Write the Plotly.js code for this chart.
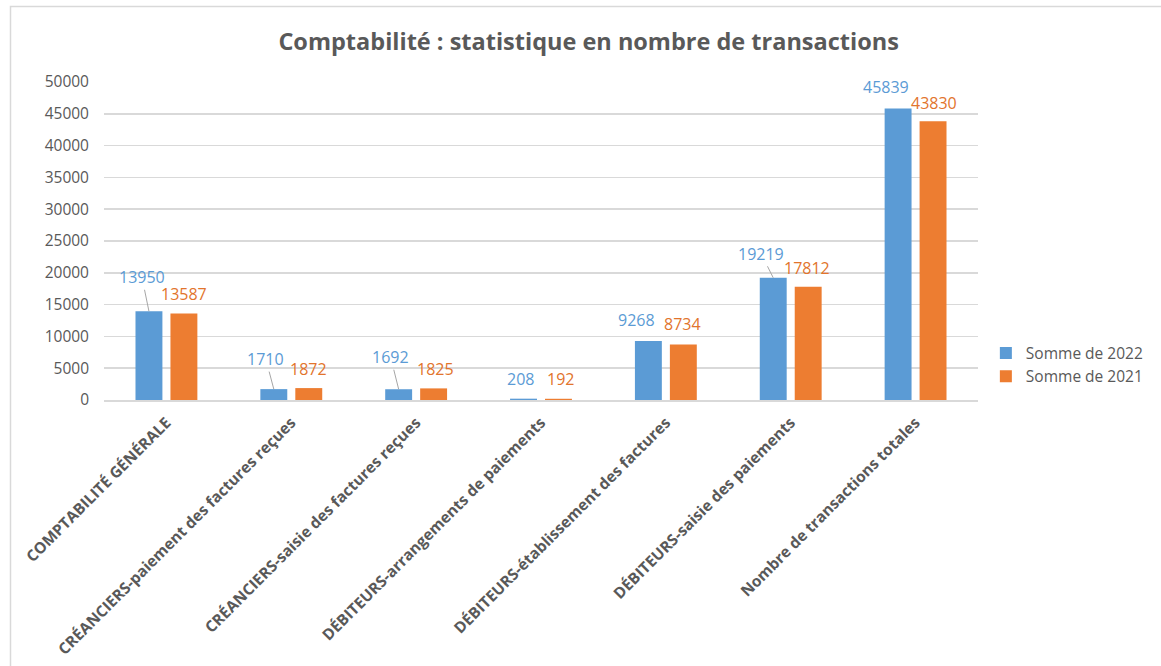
<!DOCTYPE html>
<html>
<head>
<meta charset="utf-8">
<script src="https://cdn.plot.ly/plotly-3.0.1.min.js"></script>
<style>html,body{margin:0;padding:0;background:#fff;}#chart{width:1161px;height:666px;}</style>
</head>
<body>
<div id="chart"></div>
<script>
// ---- data ----
const categories = [
  "COMPTABILITÉ GÉNÉRALE",
  "CRÉANCIERS-paiement des factures reçues",
  "CRÉANCIERS-saisie des factures reçues",
  "DÉBITEURS-arrangements de paiements",
  "DÉBITEURS-établissement des factures",
  "DÉBITEURS-saisie des paiements",
  "Nombre de transactions totales"
];
const values2022 = [13950, 1710, 1692, 208, 9268, 19219, 45839];
const values2021 = [13587, 1872, 1825, 192, 8734, 17812, 43830];
const seriesNames = ["Somme de 2022", "Somme de 2021"];
const yTicks = [0, 5000, 10000, 15000, 20000, 25000, 30000, 35000, 40000, 45000, 50000];

// ---- label placement (pixel offsets of moved data labels, Excel-like) ----
const label2022Offsets = [[-7, -34], [-8, -30], [-8, -32], [-3, -20], [-12, -21], [-12, -24], [-12, -21]];
const label2022Leader = [true, true, true, false, false, true, false];
const label2021Offsets = [[0, -20], [0, -19], [2, -19], [2, -20], [-1, -20], [-1, -19], [1, -18]];

const W = 1161, H = 666;
const M = {l: 104, r: 183, t: 82, b: 266, autoexpand: false};
const bargap = 0.44;
const plotW = W - M.l - M.r;
const plotH = H - M.t - M.b;
const catW = plotW / categories.length;
const slotOffset = catW * (1 - bargap) / 4;

const blue = "#5B9BD5", orange = "#ED7D31";
const blueText = "#5B9BD5", orangeText = "#E2742C";
const grey = "#595959", grid = "#D9D9D9";
const font = "'Open Sans', Lato, sans-serif";

const traces = [
  {type: "bar", name: seriesNames[0], x: categories, y: values2022, marker: {color: blue},
   legendgroup: "a", hoverinfo: "y"},
  {type: "bar", name: seriesNames[1], x: categories, y: values2021, marker: {color: orange},
   legendgroup: "b", hoverinfo: "y"}
];

const annotations = [];
categories.forEach((c, i) => {
  annotations.push({
    x: c, y: values2022[i], xref: "x", yref: "y", xshift: -slotOffset,
    text: String(values2022[i]), showarrow: true, arrowhead: 0, arrowwidth: 1,
    arrowcolor: label2022Leader[i] ? "#A6A6A6" : "rgba(0,0,0,0)", standoff: 0,
    ax: label2022Offsets[i][0], ay: label2022Offsets[i][1],
    font: {family: font, size: 16, color: blueText}
  });
  annotations.push({
    x: c, y: values2021[i], xref: "x", yref: "y", xshift: slotOffset,
    text: String(values2021[i]), showarrow: true, arrowhead: 0, arrowwidth: 1,
    arrowcolor: "rgba(0,0,0,0)", standoff: 0,
    ax: label2021Offsets[i][0], ay: label2021Offsets[i][1],
    font: {family: font, size: 16, color: orangeText}
  });
});

const layout = {
  width: W, height: H,
  margin: M,
  paper_bgcolor: "#fff", plot_bgcolor: "#fff",
  font: {family: font, color: grey},
  title: {text: "<b>Comptabilité : statistique en nombre de transactions</b>",
          font: {family: font, size: 23.5, color: grey},
          x: 0.507, xref: "container", xanchor: "center", y: 0.937, yref: "container", yanchor: "middle"},
  barmode: "group", bargap: bargap, bargroupgap: 0.23,
  xaxis: {type: "category", tickangle: -45, tickfont: {family: font, size: 15.5, color: grey, weight: "bold"},
          showgrid: false, showline: true, linecolor: grid, linewidth: 1.5, ticks: "", ticklabelstandoff: 6,
          fixedrange: true},
  yaxis: {range: [0, 50000], tickvals: yTicks, ticktext: yTicks.map(String),
          tickfont: {family: font, size: 15.5, color: grey}, showgrid: true, gridcolor: grid, gridwidth: 1.5,
          zeroline: false, showline: false, ticks: "", ticklabelstandoff: 14, fixedrange: true},
  legend: {x: 1.009, xanchor: "left", y: 0.11, yanchor: "middle", orientation: "v",
           font: {family: font, size: 15.5, color: grey}, tracegroupgap: 22, itemwidth: 30,
           traceorder: "normal", bgcolor: "rgba(0,0,0,0)"},
  annotations: annotations,
  shapes: [{type: "rect", xref: "paper", yref: "paper",
            x0: (10.5 - M.l) / plotW, x1: (W + 10 - M.l) / plotW,
            y0: -(H + 10 - (H - M.b)) / plotH, y1: ((H - M.b) - 6.5) / plotH,
            line: {color: grid, width: 1.5}, fillcolor: "rgba(0,0,0,0)", layer: "below"}],
  showlegend: true
};

Plotly.newPlot("chart", traces, layout, {displayModeBar: false, staticPlot: true});
</script>
</body>
</html>
